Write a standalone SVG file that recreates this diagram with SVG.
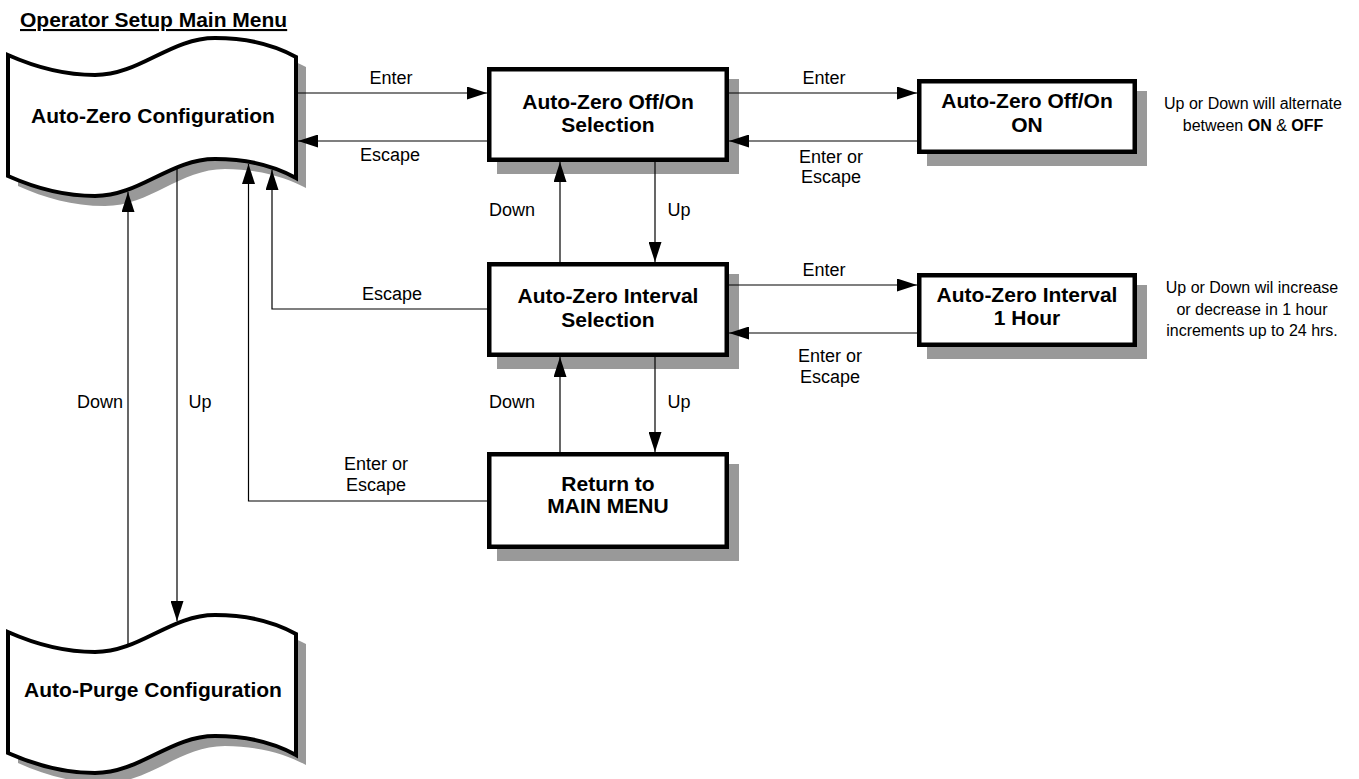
<svg xmlns="http://www.w3.org/2000/svg" width="1359" height="779" viewBox="0 0 1359 779">
<style>
text{font-family:"Liberation Sans",Arial,sans-serif;fill:#000}
.nt{font-size:21px;font-weight:bold;text-anchor:middle}
.el{font-size:18px;text-anchor:middle}
.an{font-size:16px;text-anchor:middle}
.box{fill:#fff;stroke:#000;stroke-width:4.5}
.shd{fill:#999}
.wave{fill:#fff;stroke:#000;stroke-width:4;stroke-linejoin:miter}
.cn{fill:none;stroke:#000;stroke-width:1.2}
</style>
<defs>
<marker id="ah" markerUnits="userSpaceOnUse" markerWidth="20" markerHeight="13" refX="20" refY="6.5" orient="auto">
<path d="M0,0 L20,6.5 L0,13 Z" fill="#000"/>
</marker>
<path id="tape" d="M8,55 C35,67 62,75 95,75 C140,75 170,38 215,38 C250,38 278,47 296,57 L296,178 C278,168 250,159 215,159 C170,159 140,196 95,196 C62,196 35,188 8,176 Z"/>
</defs>
<text x="20" y="27" style="font-size:21px;font-weight:bold;text-decoration:underline">Operator Setup Main Menu</text>
<g id="node-autozero-config">
<use href="#tape" class="shd" transform="translate(10,10)"/>
<use href="#tape" class="wave"/>
<text class="nt" x="153" y="123">Auto-Zero Configuration</text>
</g>
<g id="node-autopurge-config">
<use href="#tape" class="shd" transform="translate(10,587)"/>
<use href="#tape" class="wave" transform="translate(0,577)"/>
<text class="nt" x="153" y="697">Auto-Purge Configuration</text>
</g>
<g id="node-offon-selection">
<rect class="shd" x="497" y="79" width="242" height="95"/>
<rect class="box" x="489.25" y="69.25" width="237.5" height="90.5"/>
<text class="nt" x="608" y="109">Auto-Zero Off/On</text>
<text class="nt" x="608" y="132">Selection</text>
</g>
<g id="node-offon-value">
<rect class="shd" x="927" y="91" width="220" height="75"/>
<rect class="box" x="919.25" y="81.25" width="215.5" height="70.5"/>
<text class="nt" x="1027" y="108">Auto-Zero Off/On</text>
<text class="nt" x="1027" y="132">ON</text>
</g>
<g id="note-offon">
<text class="an" x="1253" y="109">Up or Down will alternate</text>
<text class="an" x="1253" y="131">between <tspan font-weight="bold">ON</tspan> &amp; <tspan font-weight="bold">OFF</tspan></text>
</g>
<g id="node-interval-selection">
<rect class="shd" x="497" y="274" width="242" height="95"/>
<rect class="box" x="489.25" y="264.25" width="237.5" height="90.5"/>
<text class="nt" x="608" y="303">Auto-Zero Interval</text>
<text class="nt" x="608" y="327">Selection</text>
</g>
<g id="node-interval-value">
<rect class="shd" x="927" y="285" width="220" height="74"/>
<rect class="box" x="919.25" y="275.25" width="215.5" height="69.5"/>
<text class="nt" x="1027" y="302">Auto-Zero Interval</text>
<text class="nt" x="1027" y="325">1 Hour</text>
</g>
<g id="note-interval">
<text class="an" x="1252" y="293">Up or Down wil increase</text>
<text class="an" x="1252" y="315">or decrease in 1 hour</text>
<text class="an" x="1252" y="336">increments up to 24 hrs.</text>
</g>
<g id="node-return">
<rect class="shd" x="497" y="464" width="242" height="97"/>
<rect class="box" x="489.25" y="454.25" width="237.5" height="92.5"/>
<text class="nt" x="608" y="491">Return to</text>
<text class="nt" x="608" y="513">MAIN MENU</text>
</g>
<g id="connectors">
<path class="cn" d="M298,93 H487" marker-end="url(#ah)"/>
<path class="cn" d="M487,141 H298" marker-end="url(#ah)"/>
<path class="cn" d="M729,93 H917" marker-end="url(#ah)"/>
<path class="cn" d="M917,141 H729" marker-end="url(#ah)"/>
<path class="cn" d="M560,262 V162" marker-end="url(#ah)"/>
<path class="cn" d="M655,162 V262" marker-end="url(#ah)"/>
<path class="cn" d="M729,285 H917" marker-end="url(#ah)"/>
<path class="cn" d="M917,333 H729" marker-end="url(#ah)"/>
<path class="cn" d="M560,452 V357" marker-end="url(#ah)"/>
<path class="cn" d="M655,357 V452" marker-end="url(#ah)"/>
<path class="cn" d="M487,309 H272 V170" marker-end="url(#ah)"/>
<path class="cn" d="M487,501 H248.5 V164" marker-end="url(#ah)"/>
<path class="cn" d="M177,169 V621" marker-end="url(#ah)"/>
<path class="cn" d="M128,645 V192" marker-end="url(#ah)"/>
<text class="el" x="391" y="84">Enter</text>
<text class="el" x="390" y="161">Escape</text>
<text class="el" x="824" y="84">Enter</text>
<text class="el" x="831" y="163">Enter or</text>
<text class="el" x="831" y="183">Escape</text>
<text class="el" x="512" y="216">Down</text>
<text class="el" x="679" y="216">Up</text>
<text class="el" x="392" y="300">Escape</text>
<text class="el" x="824" y="276">Enter</text>
<text class="el" x="830" y="362">Enter or</text>
<text class="el" x="830" y="383">Escape</text>
<text class="el" x="512" y="408">Down</text>
<text class="el" x="679" y="408">Up</text>
<text class="el" x="376" y="470">Enter or</text>
<text class="el" x="376" y="491">Escape</text>
<text class="el" x="100" y="408">Down</text>
<text class="el" x="200" y="408">Up</text>
</g>
</svg>
